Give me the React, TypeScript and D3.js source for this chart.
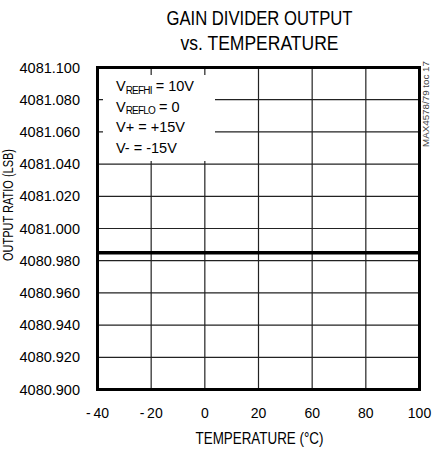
import React from 'react';
import * as d3 from 'd3';

const W = 432;
const H = 449;

// axis categories as printed on the chart (the 4th tick reads 60 on the original)
const xLabels = ['-40', '-20', '0', '20', '60', '80', '100'];
const yTicks = [4080.9, 4080.92, 4080.94, 4080.96, 4080.98, 4081.0, 4081.02, 4081.04, 4081.06, 4081.08, 4081.1];
const outputRatio = [4080.985, 4080.985, 4080.985, 4080.985, 4080.985, 4080.985, 4080.985];

const conditions = [
    { main: 'V', sub: 'REFHI', rest: ' = 10V' },
    { main: 'V', sub: 'REFLO', rest: ' = 0' },
    { main: 'V+ = +15V', sub: '', rest: '' },
    { main: 'V-  = -15V', sub: '', rest: '' },
];

const sans = "'Liberation Sans', Arial, sans-serif";

export default function App() {
    const margin = { top: 67.5, right: 12.5, bottom: 59.5, left: 97.5 };
    const x0 = margin.left;
    const x1 = W - margin.right;
    const y0 = margin.top;
    const y1 = H - margin.bottom;

    const x = d3.scalePoint<string>().domain(xLabels).range([x0, x1]);
    const y = d3.scaleLinear().domain([4080.9, 4081.1]).range([y1, y0]);

    const line = d3.line<number>()
        .x((d, i) => x(xLabels[i]) as number)
        .y(d => y(d));

    const cx = (x0 + x1) / 2;

    // no condensed face installed, so squeeze the narrow titles to their width
    const squeeze = { lengthAdjust: 'spacingAndGlyphs' as const };

    return (
        <svg width={W} height={H} style={{ position: 'absolute', left: 0, top: 0, background: '#fff' }}>
            {/* title */}
            <text x={cx + 1} y={25} textAnchor="middle" fontFamily={sans} fontSize={20} textLength={186} {...squeeze}>GAIN DIVIDER OUTPUT</text>
            <text x={cx + 1} y={50} textAnchor="middle" fontFamily={sans} fontSize={20} textLength={158} {...squeeze}>vs. TEMPERATURE</text>

            {/* grid */}
            {yTicks.map(t => (
                <line key={'h' + t} x1={x0} x2={x1} y1={y(t)} y2={y(t)} stroke="#222" strokeWidth={1.2} />
            ))}
            {xLabels.map(l => (
                <line key={'v' + l} x1={x(l)} x2={x(l)} y1={y0} y2={y1} stroke="#222" strokeWidth={1.2} />
            ))}

            {/* box behind the test conditions */}
            <rect x={103} y={75} width={112} height={86} fill="#fff" />
            {conditions.map((c, i) => (
                <text key={i} x={116} y={91 + i * 20.5} fontFamily={sans} fontSize={14.5}>
                    {c.main}
                    {c.sub && <tspan fontSize={10} dy={2.5} letterSpacing={-0.8}>{c.sub}</tspan>}
                    {c.rest && <tspan dy={c.sub ? -2.5 : 0}>{c.rest}</tspan>}
                </text>
            ))}

            {/* data */}
            <path d={line(outputRatio) || ''} fill="none" stroke="#000" strokeWidth={3.5} />

            {/* frame */}
            <rect x={x0} y={y0} width={x1 - x0} height={y1 - y0} fill="none" stroke="#000" strokeWidth={3} />

            {/* y tick labels */}
            {yTicks.map(t => (
                <text key={'yl' + t} x={80} y={y(t) + 5} textAnchor="end" fontFamily={sans} fontSize={14.5}>
                    {d3.format('.3f')(t)}
                </text>
            ))}
            {/* x tick labels */}
            {xLabels.map(l => (
                <text key={'xl' + l} x={x(l)} y={418} textAnchor="middle" fontFamily={sans} fontSize={14}>
                    {l.startsWith('-') ? '-\u2009' + l.slice(1) : l}
                </text>
            ))}

            {/* axis titles */}
            <text x={cx + 1} y={444} textAnchor="middle" fontFamily={sans} fontSize={16} textLength={128} {...squeeze}>TEMPERATURE (°C)</text>
            <text transform={`translate(13,${205}) rotate(-90)`} textAnchor="middle" fontFamily={sans} fontSize={15} textLength={112} {...squeeze}>
                OUTPUT RATIO (LSB)
            </text>

            {/* figure id */}
            <text transform={`translate(429,${104}) rotate(-90)`} textAnchor="middle" fontFamily={sans} fontSize={9.5} fill="#444" textLength={86} {...squeeze}>
                MAX4578/79 toc 17
            </text>
        </svg>
    );
}
